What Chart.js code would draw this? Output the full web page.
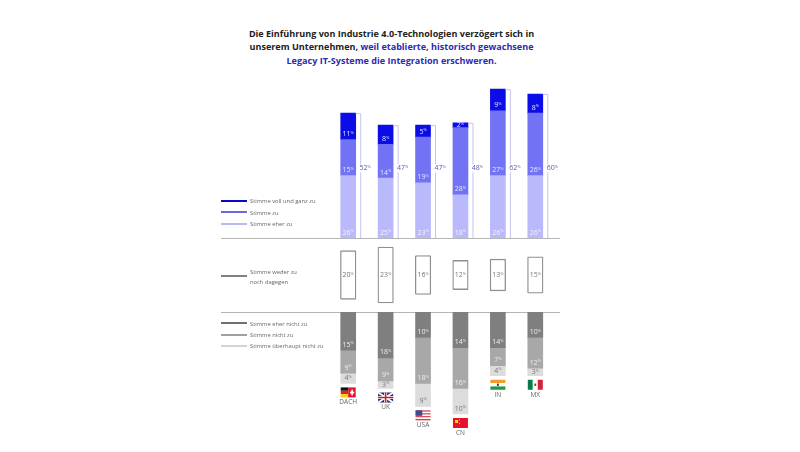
<!DOCTYPE html>
<html lang="de">
<head>
<meta charset="utf-8">
<title>Legacy IT-Systeme</title>
<script src="https://cdn.jsdelivr.net/npm/chart.js@4"></script>
<style>
    html, body { margin: 0; padding: 0; background: #fff; width: 800px; height: 452px; overflow: hidden; }
    body { position: relative; font-family: "Open Sans", sans-serif; }
    canvas { position: absolute; left: 0; }
    #agreeChart { top: 80px; }
    #neutralChart { top: 240px; }
    #disagreeChart { top: 312px; }
    #title { position: absolute; left: 191.5px; top: 26.5px; width: 400px; text-align: center; font-size: 9.05px; line-height: 13.5px; font-weight: 700; color: #222; }
    #title span { color: #2b2bb0; }
    .rule { position: absolute; left: 221px; width: 339px; height: 1px; background: #b5b5b5; }
    .key { position: absolute; left: 250px; font-size: 5.8px; line-height: 10px; color: #666; white-space: nowrap; }
    .key i { position: absolute; left: -29px; top: 3.5px; width: 26px; height: 2px; }
</style>
</head>
<body>
<div id="title">Die Einführung von Industrie 4.0-Technologien verzögert sich in<br>unserem Unternehmen, <span>weil etablierte, historisch gewachsene<br>Legacy IT-Systeme die Integration erschweren.</span></div>
<div class="rule" style="top:238px"></div>
<div class="rule" style="top:312px"></div>
<canvas id="agreeChart" width="800" height="160"></canvas>
<canvas id="neutralChart" width="800" height="70"></canvas>
<canvas id="disagreeChart" width="800" height="140"></canvas>
<script>
const countries = ['DACH', 'UK', 'USA', 'CN', 'IN', 'MX'];

const fullyAgree = [11, 8, 5, 2, 9, 8];
const agree = [15, 14, 19, 28, 27, 26];
const ratherAgree = [26, 25, 23, 18, 26, 26];
const agreeTotals = [52, 47, 47, 48, 62, 60];

const neutral = [20, 23, 16, 12, 13, 15];

const ratherDisagree = [15, 18, 10, 14, 14, 10];
const disagree = [9, 9, 18, 16, 7, 12];
const fullyDisagree = [4, 3, 9, 10, 4, 3];

const legendLabels = ['Stimme voll und ganz zu', 'Stimme zu', 'Stimme eher zu'];
const neutralLabel = ['Stimme weder zu', 'noch dagegen'];
const disagreeLabels = ['Stimme eher nicht zu', 'Stimme nicht zu', 'Stimme überhaupt nicht zu'];

const FONT = '"Open Sans", sans-serif';
const PAD = { left: 329.5, right: 246 };

function drawPercent(ctx, value, x, y, color) {
    const num = String(value);
    ctx.save();
    ctx.fillStyle = color;
    ctx.textBaseline = 'middle';
    ctx.textAlign = 'left';
    ctx.font = '7px ' + FONT;
    const w = ctx.measureText(num).width;
    ctx.font = '4px ' + FONT;
    const p = ctx.measureText('%').width;
    ctx.font = '7px ' + FONT;
    ctx.fillText(num, x - (w + p) / 2, y);
    ctx.font = '4px ' + FONT;
    ctx.fillText('%', x - (w + p) / 2 + w, y - 1.5);
    ctx.restore();
}

// value labels sit at the lower end of each segment, short segments get them centred
function segmentLabels(chart, colors) {
    chart.data.datasets.forEach((ds, i) => {
        chart.getDatasetMeta(i).data.forEach((bar, j) => {
            const end = Math.max(bar.y, bar.base);
            const height = Math.abs(bar.base - bar.y);
            const y = height < 11 ? end - height / 2 : end - 5.5;
            drawPercent(chart.ctx, ds.data[j], bar.x, y, colors[i]);
        });
    });
}

const totalsPlugin = {
    id: 'totals',
    afterDatasetsDraw(chart) {
        segmentLabels(chart, ['#f4f4ff', '#e6e6ff', '#e6e6ff']);
        const ctx = chart.ctx;
        const y = chart.scales.y;
        const bars = chart.getDatasetMeta(0).data;
        agreeTotals.forEach((total, i) => {
            const cx = bars[i].x;
            const top = y.getPixelForValue(total);
            ctx.save();
            ctx.strokeStyle = '#c4c4ee';
            ctx.lineWidth = 1;
            ctx.beginPath();
            ctx.moveTo(cx + 7.5, top + 0.5);
            ctx.lineTo(cx + 12.5, top + 0.5);
            ctx.lineTo(cx + 12.5, y.getPixelForValue(0));
            ctx.stroke();
            ctx.fillStyle = '#fff';
            ctx.fillRect(cx + 11, y.getPixelForValue(29) - 4, 11, 8);
            ctx.restore();
            drawPercent(ctx, total, cx + 17, y.getPixelForValue(29), '#5a5ab4');
        });
    }
};

const neutralPlugin = {
    id: 'neutralValues',
    afterDatasetsDraw(chart) {
        const y = chart.scales.y;
        chart.getDatasetMeta(0).data.forEach((bar, i) => {
            drawPercent(chart.ctx, neutral[i], bar.x, y.getPixelForValue(0), '#777');
        });
    }
};

function drawFlag(ctx, name, x, y, w, h) {
    const rect = (c, rx, ry, rw, rh) => { ctx.fillStyle = c; ctx.fillRect(rx, ry, rw, rh); };
    if (name === 'DACH') {
        rect('#111', x, y, w / 2, h / 3);
        rect('#d22', x, y + h / 3, w / 2, h / 3);
        rect('#fc0', x, y + 2 * h / 3, w / 2, h / 3);
        rect('#e1142d', x + w / 2, y, w / 2, h);
        rect('#fff', x + w * 0.62, y + h * 0.42, w * 0.28, h * 0.18);
        rect('#fff', x + w * 0.71, y + h * 0.22, w * 0.1, h * 0.58);
    } else if (name === 'UK') {
        rect('#23306e', x, y, w, h);
        ctx.save();
        ctx.strokeStyle = '#fff';
        ctx.lineWidth = 2;
        ctx.beginPath();
        ctx.moveTo(x, y); ctx.lineTo(x + w, y + h);
        ctx.moveTo(x + w, y); ctx.lineTo(x, y + h);
        ctx.stroke();
        ctx.restore();
        rect('#fff', x, y + h * 0.36, w, h * 0.28);
        rect('#fff', x + w * 0.4, y, w * 0.2, h);
        rect('#cf142b', x, y + h * 0.43, w, h * 0.14);
        rect('#cf142b', x + w * 0.45, y, w * 0.1, h);
    } else if (name === 'USA') {
        for (let s = 0; s < 7; s++) {
            rect(s % 2 ? '#fff' : '#d0454f', x, y + s * h / 7, w, h / 7);
        }
        rect('#3c4b8c', x, y, w * 0.45, h * 0.55);
    } else if (name === 'CN') {
        rect('#e8112d', x, y, w, h);
        rect('#ffde00', x + w * 0.14, y + h * 0.2, w * 0.2, h * 0.3);
        rect('#ffde00', x + w * 0.4, y + h * 0.15, w * 0.07, h * 0.1);
        rect('#ffde00', x + w * 0.4, y + h * 0.5, w * 0.07, h * 0.1);
    } else if (name === 'IN') {
        rect('#f49b2d', x, y, w, h / 3);
        rect('#fff', x, y + h / 3, w, h / 3);
        rect('#239a3b', x, y + 2 * h / 3, w, h / 3);
        rect('#335', x + w * 0.44, y + h * 0.38, w * 0.12, h * 0.24);
    } else {
        rect('#0a7a4c', x, y, w / 3, h);
        rect('#fff', x + w / 3, y, w / 3, h);
        rect('#d5203a', x + 2 * w / 3, y, w / 3, h);
        rect('#6b4a2a', x + w * 0.44, y + h * 0.38, w * 0.12, h * 0.24);
    }
}

const flagsPlugin = {
    id: 'flags',
    afterDatasetsDraw(chart) {
        segmentLabels(chart, ['#eee', '#eee', '#777']);
        const ctx = chart.ctx;
        const y = chart.scales.y;
        chart.getDatasetMeta(0).data.forEach((bar, i) => {
            const total = ratherDisagree[i] + disagree[i] + fullyDisagree[i];
            const top = y.getPixelForValue(total) + 4;
            drawFlag(ctx, countries[i], bar.x - 7.5, top, 15, 10);
            ctx.save();
            ctx.fillStyle = '#666';
            ctx.font = '6.5px ' + FONT;
            ctx.textAlign = 'center';
            ctx.textBaseline = 'middle';
            ctx.fillText(countries[i], bar.x, top + 15);
            ctx.restore();
        });
    }
};

function baseOptions(yScale, padding) {
    return {
        responsive: false,
        animation: false,
        layout: { padding: padding },
        plugins: { legend: { display: false }, tooltip: { enabled: false } },
        scales: {
            x: { display: false, stacked: true },
            y: Object.assign({ display: false, stacked: true }, yScale)
        }
    };
}

function createAgreeChart() {
    const ctx = document.getElementById('agreeChart').getContext('2d');
    return new Chart(ctx, {
        type: 'bar',
        data: {
            labels: countries,
            datasets: [
                { label: legendLabels[2], data: ratherAgree, backgroundColor: '#b9b9fb', barThickness: 15 },
                { label: legendLabels[1], data: agree, backgroundColor: '#7272f4', barThickness: 15 },
                { label: legendLabels[0], data: fullyAgree, backgroundColor: '#0c0ce8', barThickness: 15 }
            ]
        },
        options: baseOptions({ min: 0, max: 65 }, { left: PAD.left, right: PAD.right, top: 2, bottom: 2 }),
        plugins: [totalsPlugin]
    });
}

function createNeutralChart() {
    const ctx = document.getElementById('neutralChart').getContext('2d');
    return new Chart(ctx, {
        type: 'bar',
        data: {
            labels: countries,
            datasets: [{
                label: neutralLabel.join(' '),
                data: neutral.map(v => [-v / 2, v / 2]),
                backgroundColor: '#fff',
                borderColor: '#8f8f8f',
                borderWidth: 1.3,
                borderSkipped: false,
                borderRadius: 1,
                barThickness: 15.5
            }]
        },
        options: baseOptions({ stacked: false, min: -14.4, max: 14.4 }, { left: PAD.left, right: PAD.right }),
        plugins: [neutralPlugin]
    });
}

function createDisagreeChart() {
    const ctx = document.getElementById('disagreeChart').getContext('2d');
    return new Chart(ctx, {
        type: 'bar',
        data: {
            labels: countries,
            datasets: [
                { label: disagreeLabels[0], data: ratherDisagree, backgroundColor: '#7f7f7f', barThickness: 15 },
                { label: disagreeLabels[1], data: disagree, backgroundColor: '#a8a8a8', barThickness: 15 },
                { label: disagreeLabels[2], data: fullyDisagree, backgroundColor: '#dcdcdc', barThickness: 15 }
            ]
        },
        options: baseOptions({ reverse: true, min: 0, max: 54.9 }, { left: PAD.left, right: PAD.right }),
        plugins: [flagsPlugin]
    });
}

function addKey(lines, top, color, thick) {
    const el = document.createElement('div');
    el.className = 'key';
    el.style.top = top + 'px';
    el.innerHTML = lines.join('<br>');
    const line = document.createElement('i');
    line.style.background = color;
    line.style.top = (lines.length > 1 ? 8 : 3.5) + 'px';
    if (thick) line.style.height = '2.5px';
    el.appendChild(line);
    document.body.appendChild(el);
}

addKey([legendLabels[0]], 196, '#0a0ac4');
addKey([legendLabels[1]], 207.5, '#6a6ae0');
addKey([legendLabels[2]], 219, '#b9b9f2');
addKey(neutralLabel, 266.5, '#808080', true);
addKey([disagreeLabels[0]], 318.5, '#707070');
addKey([disagreeLabels[1]], 330, '#a0a0a0');
addKey([disagreeLabels[2]], 341, '#d4d4d4');

createAgreeChart();
createNeutralChart();
createDisagreeChart();
</script>
</body>
</html>
